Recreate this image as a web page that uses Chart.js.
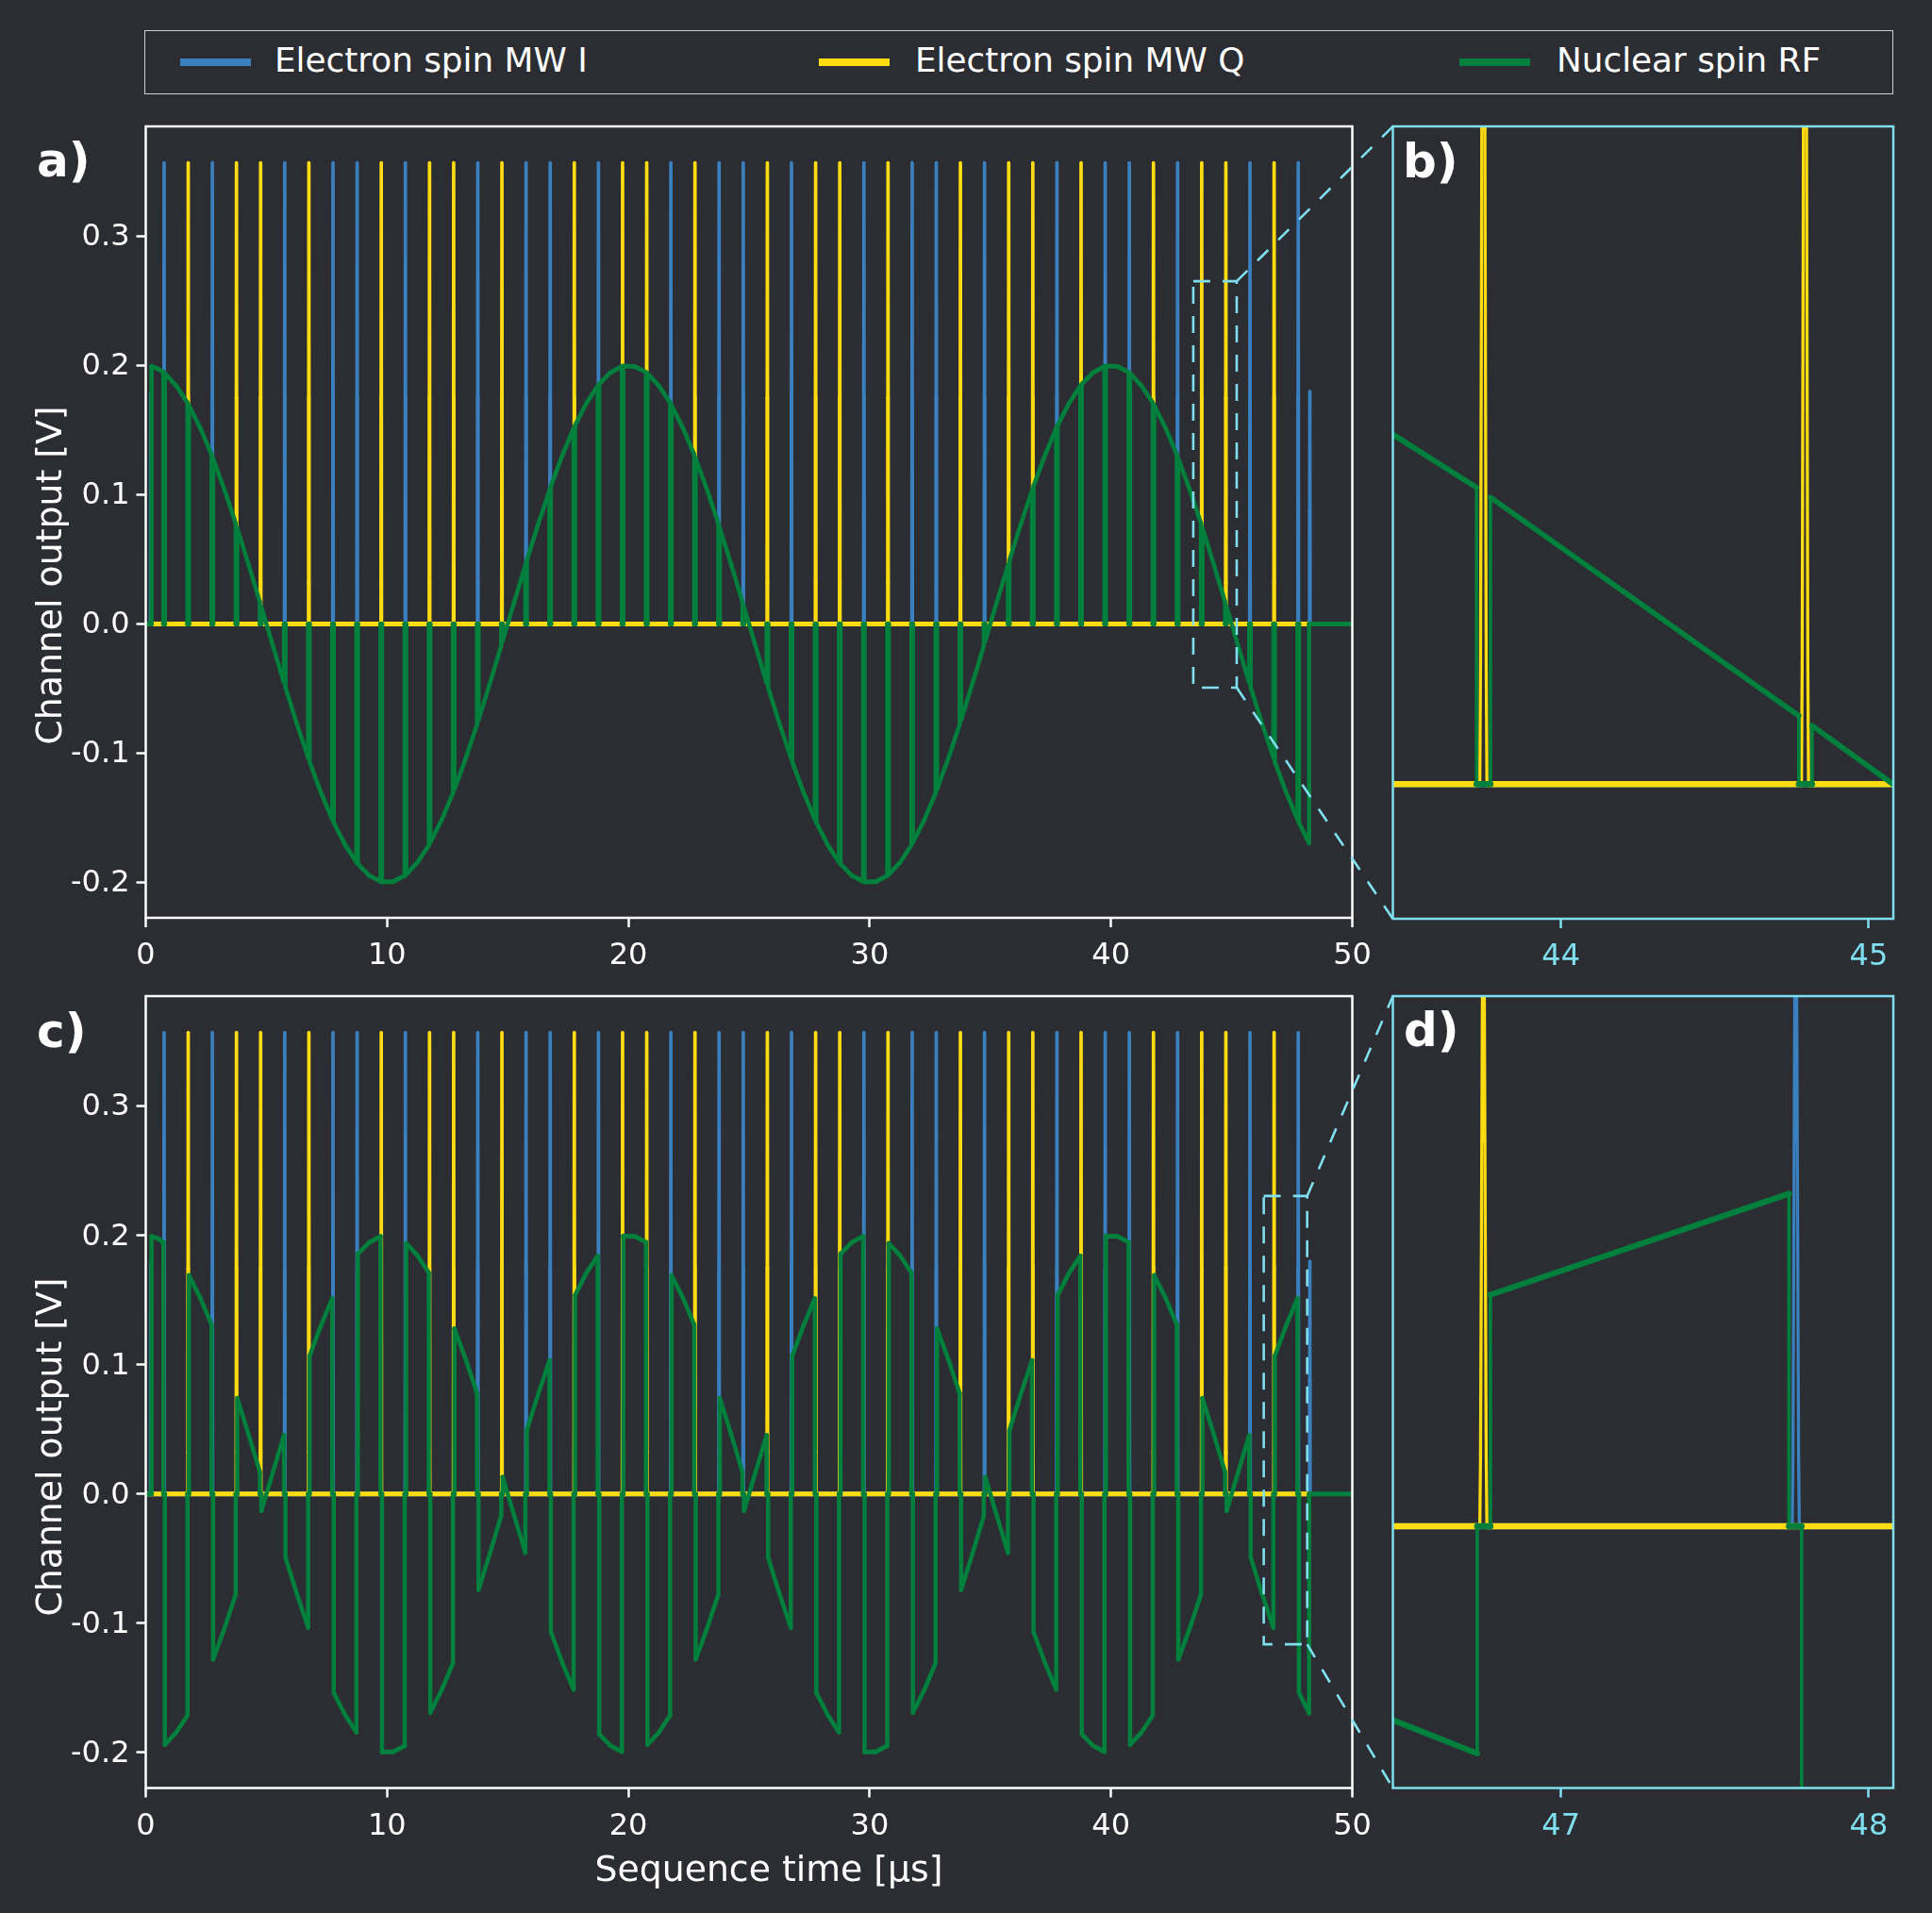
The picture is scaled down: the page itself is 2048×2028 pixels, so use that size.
<!DOCTYPE html>
<html><head><meta charset="utf-8">
<script src="https://cdn.jsdelivr.net/npm/chart.js@4/dist/chart.umd.min.js"></script>
<style>
html,body{margin:0;padding:0;background:#2b2d33;width:2048px;height:2028px;overflow:hidden}
canvas{position:absolute}
#legend{position:absolute;left:153px;top:32px;width:1852px;height:66px;border:1.6px solid #cfd0d2;box-sizing:content-box;font-family:"DejaVu Sans";font-size:35.8px;color:#fff}
.sw{position:absolute;top:28.5px;height:8.5px;width:75px}
.lb{position:absolute;top:11px;line-height:40px;white-space:nowrap}
</style></head><body>
<div id="legend"></div>
<canvas id="ca"></canvas><canvas id="cb"></canvas><canvas id="cc"></canvas><canvas id="cd"></canvas><canvas id="ov"></canvas>
<script>
// ---------- data ----------
const seriesNames = ["Electron spin MW I", "Electron spin MW Q", "Nuclear spin RF"];
const iTimes = [0.21,0.76,2.76,5.76,7.76,8.76,10.76,13.76,15.76,16.76,18.76,21.76,23.76,24.76,26.76,29.76,31.76,32.76,34.76,37.76,39.76,40.76,42.76,45.76,47.76,48.24];
const iHeights = [0.178,0.357,0.357,0.357,0.357,0.357,0.357,0.357,0.357,0.357,0.357,0.357,0.357,0.357,0.357,0.357,0.357,0.357,0.357,0.357,0.357,0.357,0.357,0.357,0.357,0.18];
const qTimes = [1.76,3.76,4.76,6.76,9.76,11.76,12.76,14.76,17.76,19.76,20.76,22.76,25.76,27.76,28.76,30.76,33.76,35.76,36.76,38.76,41.76,43.76,44.76,46.76];
const qHeights = [0.357,0.357,0.357,0.357,0.357,0.357,0.357,0.357,0.357,0.357,0.357,0.357,0.357,0.357,0.357,0.357,0.357,0.357,0.357,0.357,0.357,0.357,0.357,0.357];
const pulseOffsets = [-0.0115,-0.0092,-0.005,0,0.005,0.0092,0.0115];
const pulseFractions = [0,0.09,0.49,1,0.49,0.09,0];
// RF samples, three per free-evolution window
const rfTimes = [
0.24,0.5,0.73, 0.79,1.26,1.73, 1.79,2.26,2.73, 2.79,3.26,3.73, 3.79,4.26,4.73, 4.79,5.26,5.73, 5.79,6.26,6.73, 6.79,7.26,7.73, 7.79,8.26,8.73, 8.79,9.26,9.73,
9.79,10.26,10.73, 10.79,11.26,11.73, 11.79,12.26,12.73, 12.79,13.26,13.73, 13.79,14.26,14.73, 14.79,15.26,15.73, 15.79,16.26,16.73, 16.79,17.26,17.73, 17.79,18.26,18.73, 18.79,19.26,19.73,
19.79,20.26,20.73, 20.79,21.26,21.73, 21.79,22.26,22.73, 22.79,23.26,23.73, 23.79,24.26,24.73, 24.79,25.26,25.73, 25.79,26.26,26.73, 26.79,27.26,27.73, 27.79,28.26,28.73, 28.79,29.26,29.73,
29.79,30.26,30.73, 30.79,31.26,31.73, 31.79,32.26,32.73, 32.79,33.26,33.73, 33.79,34.26,34.73, 34.79,35.26,35.73, 35.79,36.26,36.73, 36.79,37.26,37.73, 37.79,38.26,38.73, 38.79,39.26,39.73,
39.79,40.26,40.73, 40.79,41.26,41.73, 41.79,42.26,42.73, 42.79,43.26,43.73, 43.79,44.26,44.73, 44.79,45.26,45.73, 45.79,46.26,46.73, 46.79,47.26,47.73, 47.79,48.0,48.21];
const rfA = [
.1994,.1975,.1948, .1939,.1845,.1712, .1692,.1517,.1309, .1280,.1040,.0777, .0742,.0461,.0169, .0132,-.0163,-.0455, -.0491,-.0771,-.1034, -.1067,-.1304,-.1513, -.1537,-.1709,-.1843, -.1857,-.1946,-.1993,
-.1996,-.1993,-.1948, -.1939,-.1845,-.1712, -.1692,-.1517,-.1309, -.1280,-.1040,-.0777, -.0742,-.0461,-.0169, -.0132,.0163,.0455, .0491,.0771,.1034, .1067,.1304,.1513, .1537,.1709,.1843, .1857,.1946,.1993,
.1996,.1993,.1948, .1939,.1845,.1712, .1692,.1517,.1309, .1280,.1040,.0777, .0742,.0461,.0169, .0132,-.0163,-.0455, -.0491,-.0771,-.1034, -.1067,-.1304,-.1513, -.1537,-.1709,-.1843, -.1857,-.1946,-.1993,
-.1996,-.1993,-.1948, -.1939,-.1845,-.1712, -.1692,-.1517,-.1309, -.1280,-.1040,-.0777, -.0742,-.0461,-.0169, -.0132,.0163,.0455, .0491,.0771,.1034, .1067,.1304,.1513, .1537,.1709,.1843, .1857,.1946,.1993,
.1996,.1993,.1948, .1939,.1845,.1712, .1692,.1517,.1309, .1280,.1040,.0777, .0742,.0461,.0169, .0132,-.0163,-.0455, -.0491,-.0771,-.1034, -.1067,-.1304,-.1513, -.1537,-.1618,-.1696];
const rfC = [
.1994,.1975,.1948, -.1939,-.1845,-.1712, .1692,.1517,.1309, -.1280,-.1040,-.0777, .0742,.0461,.0169, -.0132,.0163,.0455, -.0491,-.0771,-.1034, .1067,.1304,.1513, -.1537,-.1709,-.1843, .1857,.1946,.1993,
-.1996,-.1993,-.1948, .1939,.1845,.1712, -.1692,-.1517,-.1309, .1280,.1040,.0777, -.0742,-.0461,-.0169, .0132,-.0163,-.0455, .0491,.0771,.1034, -.1067,-.1304,-.1513, .1537,.1709,.1843, -.1857,-.1946,-.1993,
.1996,.1993,.1948, -.1939,-.1845,-.1712, .1692,.1517,.1309, -.1280,-.1040,-.0777, .0742,.0461,.0169, -.0132,.0163,.0455, -.0491,-.0771,-.1034, .1067,.1304,.1513, -.1537,-.1709,-.1843, .1857,.1946,.1993,
-.1996,-.1993,-.1948, .1939,.1845,.1712, -.1692,-.1517,-.1309, .1280,.1040,.0777, -.0742,-.0461,-.0169, .0132,-.0163,-.0455, .0491,.0771,.1034, -.1067,-.1304,-.1513, .1537,.1709,.1843, -.1857,-.1946,-.1993,
.1996,.1993,.1948, -.1939,-.1845,-.1712, .1692,.1517,.1309, -.1280,-.1040,-.0777, .0742,.0461,.0169, -.0132,.0163,.0455, -.0491,-.0771,-.1034, .1067,.1304,.1513, -.1537,-.1618,-.1696];
const rfEnd = 50;
// insets
const bQTimes = [43.748,44.793];
const bQHeights = [0.357,0.357];
const bRfX = [43.454,43.726,43.726,43.771,43.771,44.773,44.773,44.816,44.816,45.078];
const bRfY = [0.0934,0.0792,0,0,0.0766,0.0182,0,0,0.0156,0];
const dQTimes = [46.748];
const dQHeights = [0.357];
const dITimes = [47.763];
const dIHeights = [0.357];
const dRfX = [46.454,46.728,46.728,46.771,46.771,47.741,47.741,47.782,47.782,48.08];
const dRfY = [-0.0882,-0.1034,0,0,0.1053,0.1513,0,0,-0.1537,-0.165];
const mainXTicks = [0,10,20,30,40,50];
const mainYTicks = [-0.2,-0.1,0,0.1,0.2,0.3];
const bXTicks = [44,45];
const dXTicks = [47,48];
const mainYRange = [-0.2274,0.3851];
const mainXRange = [0,50];
const bXRange = [43.454,45.08];
const bYRange = [-0.036,0.1757];
const dXRange = [46.454,48.08];
const dYRange = [-0.1191,0.2412];
const zoomA = {x0:43.41,x1:45.21,y0:-0.0493,y1:0.2653};
const zoomC = {x0:46.33,x1:48.13,y0:-0.1162,y1:0.2305};
const xLabel = "Sequence time [μs]";
const yLabel = "Channel output [V]";
// ---------- styles ----------
const BLUE="#3a80bf",YEL="#ffdb12",GRN="#00803c",CY="#7fdfee",WH="#ffffff";
const FONT='"DejaVu Sans"';
const TICKPX=32;
Chart.defaults.font.family=FONT;
Chart.defaults.devicePixelRatio=1;

function pulses(times,heights,xMin,xMax){
  const all=[];
  times.forEach((c,i)=>{pulseOffsets.forEach((o,j)=>all.push({x:c+o,y:heights[i]*pulseFractions[j]}));});
  return [{x:xMin,y:0},...all,{x:xMax,y:0}];
}
function rfLine(vals){
  const pts=[{x:0,y:0}];
  for(let i=0;i<rfTimes.length;i+=3){
    pts.push({x:rfTimes[i],y:0});
    for(let j=0;j<3;j++)pts.push({x:rfTimes[i+j],y:vals[i+j]});
    pts.push({x:rfTimes[i+2],y:0});
  }
  pts.push({x:rfEnd,y:0});
  return pts;
}
// stroke width depends on direction, as in the reference (horizontal runs are heavier)
function widthFor(thin,thick){
  return ctx=>{
    const dx=ctx.p1.x-ctx.p0.x,dy=ctx.p1.y-ctx.p0.y,L=Math.hypot(dx,dy)||1;
    return Math.hypot(thin*dy/L,thick*dx/L);
  };
}
function ds(i,data,col,w,order){
  return {label:seriesNames[i],data,borderColor:col,backgroundColor:col,borderWidth:w[0],pointRadius:0,tension:0,
    borderJoinStyle:'round',borderCapStyle:'round',borderDash:[1e7,0],order,clip:0,fill:false,parsing:false,normalized:false,
    segment:{borderWidth:widthFor(w[0],w[1])}};
}
function make(id,cfg){
  const c=document.getElementById(id);
  c.width=cfg.w;c.height=cfg.h;c.style.left=cfg.left+'px';c.style.top=cfg.top+'px';c.style.width=cfg.w+'px';c.style.height=cfg.h+'px';
  const deco={id:'deco'+id,beforeDatasetsDraw(ch){
    const a=ch.chartArea;ch.ctx.save();ch.ctx.beginPath();ch.ctx.rect(a.left,a.top,a.right-a.left,a.bottom-a.top);ch.ctx.clip();
  },afterDatasetsDraw(ch){
    const g=ch.ctx,a=ch.chartArea;
    g.restore();
    g.save();g.strokeStyle=cfg.spine;g.lineWidth=2.5;g.strokeRect(a.left,a.top,a.right-a.left,a.bottom-a.top);
    g.fillStyle='#fff';g.textBaseline='alphabetic';g.textAlign='left';
    g.font='bold 50px '+FONT;g.fillText(cfg.letter[0],cfg.letter[1]-cfg.left,cfg.letter[2]-cfg.top);
    if(cfg.ylabel){g.font='37.8px '+FONT;g.textAlign='center';g.textBaseline='middle';g.translate(cfg.ylabel[0]-cfg.left,cfg.ylabel[1]-cfg.top);g.rotate(-Math.PI/2);g.fillText(yLabel,0,0);g.setTransform(1,0,0,1,0,0);}
    if(cfg.xlabel){g.font='37.8px '+FONT;g.textAlign='center';g.textBaseline='alphabetic';g.fillText(xLabel,cfg.xlabel[0]-cfg.left,cfg.xlabel[1]-cfg.top);}
    g.restore();
  }};
  return new Chart(c,{type:'line',data:{datasets:cfg.datasets},plugins:[deco],options:{
    responsive:false,animation:false,events:[],
    layout:{autoPadding:false,padding:{left:0,top:cfg.plot[1]-cfg.top,right:cfg.left+cfg.w-cfg.plot[2],bottom:0}},
    plugins:{legend:{display:false},tooltip:{enabled:false},title:{display:false}},
    scales:{
      x:{type:'linear',min:cfg.xr[0],max:cfg.xr[1],
        border:{display:false},grid:{display:true,drawOnChartArea:false,drawTicks:true,tickLength:10,tickWidth:2.5,tickColor:cfg.spine},
        ticks:{color:cfg.tickText,font:{size:TICKPX,family:FONT},maxRotation:0,autoSkip:false,padding:11.5,callback:v=>String(v)},
        afterBuildTicks(s){s.ticks=cfg.xt.map(v=>({value:v}));},
        afterFit(s){s.height=cfg.top+cfg.h-cfg.plot[3];}},
      y:{type:'linear',display:cfg.yShow,min:cfg.yr[0],max:cfg.yr[1],
        border:{display:false},grid:{display:cfg.yShow,drawOnChartArea:false,drawTicks:true,tickLength:10,tickWidth:2.5,tickColor:cfg.spine},
        ticks:{color:WH,font:{size:TICKPX,family:FONT},padding:7,labelOffset:1.5,autoSkip:false,callback:v=>v.toFixed(1)},
        afterBuildTicks(s){if(cfg.yt)s.ticks=cfg.yt.map(v=>({value:v}));},
        afterFit(s){s.width=cfg.plot[0]-cfg.left;}}
    }}});
}
const MP=[3.7,5],MG=[4.5,5],IP=[3.3,6.5],IG=[3.7,6.5];
const chA=make('ca',{left:0,top:100,w:1476,h:940,plot:[154.5,134,1433.5,973],xr:mainXRange,yr:mainYRange,xt:mainXTicks,yt:mainYTicks,yShow:true,spine:WH,tickText:WH,letter:['a)',39,187],ylabel:[55,610],
  datasets:[ds(0,pulses(iTimes,iHeights,0,48.21),BLUE,MP,3),ds(1,pulses(qTimes,qHeights,0,48.21),YEL,MP,2),ds(2,rfLine(rfA),GRN,MG,1)]});
const chC=make('cc',{left:0,top:1020,w:1476,h:1008,plot:[154.5,1056,1433.5,1895.5],xr:mainXRange,yr:mainYRange,xt:mainXTicks,yt:mainYTicks,yShow:true,spine:WH,tickText:WH,letter:['c)',39,1109.5],ylabel:[55,1534],xlabel:[815,1994],
  datasets:[ds(0,pulses(iTimes,iHeights,0,48.21),BLUE,MP,3),ds(1,pulses(qTimes,qHeights,0,48.21),YEL,MP,2),ds(2,rfLine(rfC),GRN,MG,1)]});
const chB=make('cb',{left:1440,top:100,w:608,h:940,plot:[1476.5,134,2007,974],xr:bXRange,yr:bYRange,xt:bXTicks,yShow:false,spine:CY,tickText:CY,letter:['b)',1487,187.5],
  datasets:[ds(0,[{x:bXRange[0],y:0},{x:bXRange[1],y:0}],BLUE,IP,3),ds(1,pulses(bQTimes,bQHeights,bXRange[0],bXRange[1]),YEL,IP,2),ds(2,bRfX.map((x,i)=>({x,y:bRfY[i]})),GRN,IG,1)]});
const chD=make('cd',{left:1440,top:1020,w:608,h:1008,plot:[1476.5,1056,2007,1895.5],xr:dXRange,yr:dYRange,xt:dXTicks,yShow:false,spine:CY,tickText:CY,letter:['d)',1488,1108.5],
  datasets:[ds(0,pulses(dITimes,dIHeights,dXRange[0],dXRange[1]),BLUE,IP,3),ds(1,pulses(dQTimes,dQHeights,dXRange[0],dXRange[1]),YEL,IP,2),ds(2,dRfX.map((x,i)=>({x,y:dRfY[i]})),GRN,IG,1)]});

// legend built from the chart's own datasets
const legend=document.getElementById('legend');
const swX=[36.5,714,1393],txX=[137,816,1496];
chA.data.datasets.forEach((d,i)=>{
  const s=document.createElement('div');s.className='sw';s.style.left=swX[i]+'px';s.style.background=d.borderColor;legend.appendChild(s);
  const t=document.createElement('div');t.className='lb';t.style.left=txX[i]+'px';t.textContent=d.label;legend.appendChild(t);
});
// zoom rectangles and connectors
const ov=document.getElementById('ov');ov.width=2048;ov.height=2028;ov.style.left='0';ov.style.top='0';ov.style.pointerEvents='none';
const g=ov.getContext('2d');
function zoomMark(ch,top,inset,insetTop,z){
  const X0=ch.scales.x.getPixelForValue(z.x0),X1=ch.scales.x.getPixelForValue(z.x1);
  const Y0=ch.scales.y.getPixelForValue(z.y1)+top,Y1=ch.scales.y.getPixelForValue(z.y0)+top;
  const a=inset.chartArea,L=a.left+1440,T=a.top+insetTop,B=a.bottom+insetTop;
  g.strokeStyle=CY;g.lineWidth=2.6;g.lineCap='butt';
  g.setLineDash([18,13]);g.strokeRect(X0,Y0,X1-X0,Y1-Y0);
  g.setLineDash([16,15]);
  g.beginPath();g.moveTo(X1,Y0);g.lineTo(L,T);g.stroke();
  g.beginPath();g.moveTo(X1,Y1);g.lineTo(L,B);g.stroke();
}
zoomMark(chA,100,chB,100,zoomA);
zoomMark(chC,1020,chD,1020,zoomC);
</script></body></html>
